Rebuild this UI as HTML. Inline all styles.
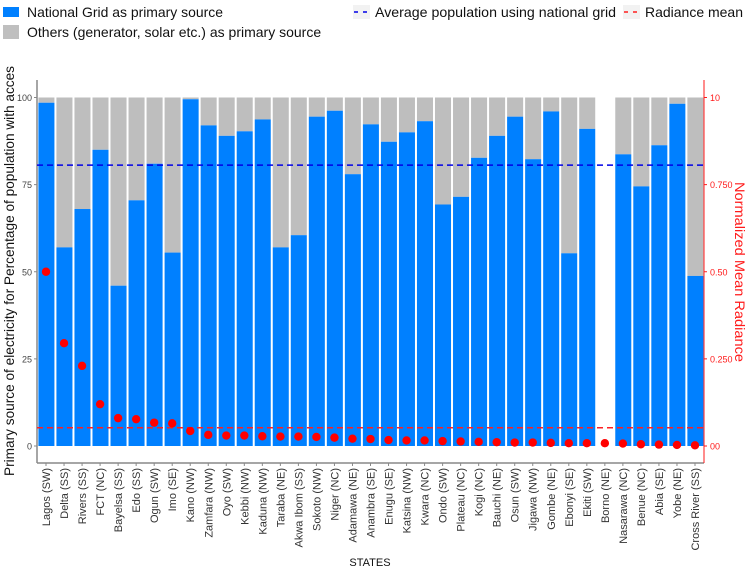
<!DOCTYPE html>
<html><head><meta charset="utf-8"><style>
body{margin:0;background:#fff;}
svg{display:block;font-family:"Liberation Sans",Arial,sans-serif;}
</style></head><body>
<svg id="chart" width="746" height="570">
<g id="legend">
  <rect x="3" y="7" width="16" height="10" fill="#0080ff"/>
  <text x="27" y="17" font-size="14" textLength="196" lengthAdjust="spacingAndGlyphs" fill="#111">National Grid as primary source</text>
  <rect x="3" y="25" width="16" height="14" fill="#bfbfbf"/>
  <text x="27" y="37" font-size="14" fill="#111">Others (generator, solar etc.) as primary source</text>
  <rect x="353" y="5" width="17" height="14" fill="#f2f2f2"/>
  <line x1="354" y1="12" x2="369" y2="12" stroke="#0000e6" stroke-width="1.5" stroke-dasharray="4,5"/>
  <text x="375" y="17" font-size="14" textLength="241" lengthAdjust="spacingAndGlyphs" fill="#111">Average population using national grid</text>
  <rect x="623" y="5" width="17" height="14" fill="#f2f2f2"/>
  <line x1="624" y1="12" x2="639" y2="12" stroke="#ff2020" stroke-width="1.5" stroke-dasharray="4,5"/>
  <text x="645" y="17" font-size="14" textLength="98" lengthAdjust="spacingAndGlyphs" fill="#111">Radiance mean</text>
</g>
<g id="plot"></g>
<text transform="translate(14,271) rotate(-90)" text-anchor="middle" font-size="14" textLength="410" lengthAdjust="spacingAndGlyphs" fill="#111">Primary source of electricity for Percentage of population with acces</text>
<text transform="translate(735,272) rotate(90)" text-anchor="middle" font-size="14" textLength="180" lengthAdjust="spacingAndGlyphs" fill="#ff1a1a">Normalized Mean Radiance</text>
<text x="370" y="566" text-anchor="middle" font-size="11" fill="#111">STATES</text>
</svg>
<script>
const states=["Lagos (SW)","Delta (SS)","Rivers (SS)","FCT (NC)","Bayelsa (SS)","Edo (SS)","Ogun (SW)","Imo (SE)","Kano (NW)","Zamfara (NW)","Oyo (SW)","Kebbi (NW)","Kaduna (NW)","Taraba (NE)","Akwa Ibom (SS)","Sokoto (NW)","Niger (NC)","Adamawa (NE)","Anambra (SE)","Enugu (SE)","Katsina (NW)","Kwara (NC)","Ondo (SW)","Plateau (NC)","Kogi (NC)","Bauchi (NE)","Osun (SW)","Jigawa (NW)","Gombe (NE)","Ebonyi (SE)","Ekiti (SW)","Borno (NE)","Nasarawa (NC)","Benue (NC)","Abia (SE)","Yobe (NE)","Cross River (SS)"];
const gridPct=[98.5,57,68,85,46,70.5,81,55.5,99.5,92,89,90.3,93.7,57,60.5,94.5,96.2,78,92.3,87.3,90,93.2,69.3,71.5,82.7,89,94.5,82.3,96,55.3,91,null,83.7,74.5,86.3,98.2,48.8];
const radiance=[0.50,0.295,0.23,0.12,0.08,0.077,0.067,0.065,0.043,0.032,0.03,0.03,0.028,0.027,0.027,0.026,0.024,0.021,0.02,0.017,0.016,0.016,0.014,0.013,0.012,0.011,0.01,0.01,0.009,0.008,0.008,0.008,0.007,0.005,0.004,0.003,0.002];
const leftTicks=[0,25,50,75,100];
const rightTicks=[0,0.25,0.5,0.75,1.0];
const rightTickLabels=["00","0.250","0.50","0.750","10"];
const avgGrid=80.6;
const radianceMean=0.0525;

const NS="http://www.w3.org/2000/svg";
const plot=document.getElementById('plot');
const X0=37,X1=704,Y0=446,Y100=97.5;
const n=states.length;
const step=(X1-X0)/n;
const y=v=>Y0-(v/100)*(Y0-Y100);
const y2=v=>Y0-v*(Y0-Y100);
const xc=i=>X0+step*(i+0.5);
function mk(tag,attrs){const e=document.createElementNS(NS,tag);for(const k in attrs)e.setAttribute(k,attrs[k]);plot.appendChild(e);return e;}

let e=mk('line',{x1:X0,y1:80,x2:X0,y2:463,stroke:'#888','stroke-width':1.5});


e=mk('line',{x1:X0,y1:463,x2:X1,y2:463,stroke:'#888','stroke-width':1.5});


e=mk('line',{x1:X1,y1:80,x2:X1,y2:463,stroke:'#ff1a1a','stroke-width':1});



leftTicks.forEach(t=>{
  const l=mk('line',{x1:X0-3,y1:y(t),x2:X0,y2:y(t),stroke:'#888'});
  
  
  const tx=mk('text',{x:X0-5,y:y(t)+3.5,'text-anchor':'end','font-size':9,fill:'#444'});
  tx.textContent=t;
  
  
});
rightTicks.forEach((t,i)=>{
  const l=mk('line',{x1:X1,y1:y2(t),x2:X1+3,y2:y2(t),stroke:'#ff1a1a'});
  
  
  const tx=mk('text',{x:X1+6,y:y2(t)+3.5,'font-size':9,fill:'#ff1a1a'});
  tx.textContent=rightTickLabels[i];
  
  
});

states.forEach((s,i)=>{
  const bx=X0+step*i+1.4, bw=step-2;
  const v=gridPct[i];
  if(v!==null){
    const g=mk('rect',{x:bx,y:y(100),width:bw,height:y(v)-y(100),fill:'#bebebe'});
    
    
    const b=mk('rect',{x:bx,y:y(v),width:bw,height:Y0-y(v),fill:'#0080ff'});
    
    
  }
  const tk=mk('line',{x1:xc(i),y1:463,x2:xc(i),y2:466,stroke:'#888'});
  
  
  const lb=mk('text',{transform:`translate(${xc(i)+4},468) rotate(-90)`,'text-anchor':'end','font-size':11,fill:'#333'});
  lb.textContent=s;
  
  
});

e=mk('line',{x1:X0,y1:y(avgGrid),x2:X1,y2:y(avgGrid),stroke:'#0000e6','stroke-width':1.5,'stroke-dasharray':'6,4'});


e=mk('line',{x1:X0,y1:y2(radianceMean),x2:X1,y2:y2(radianceMean),stroke:'#ff2020','stroke-width':1.5,'stroke-dasharray':'6,4'});



radiance.forEach((r,i)=>{
  const c=mk('circle',{cx:xc(i),cy:y2(r),r:4.2,fill:'#ff0000'});
  
  
});
</script>
</body></html>
